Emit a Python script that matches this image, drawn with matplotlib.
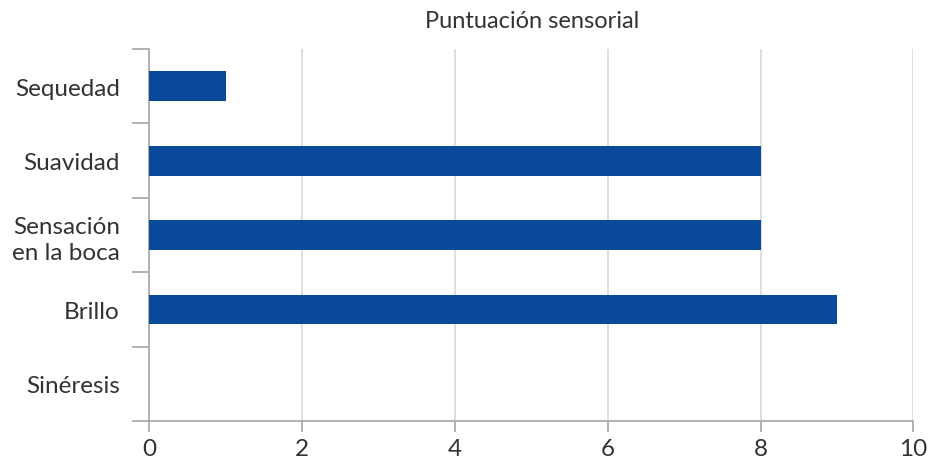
import matplotlib
matplotlib.use("Agg")
import matplotlib.pyplot as plt
from matplotlib.ticker import FixedLocator

categories = ["Sequedad", "Suavidad", "Sensación\nen la boca", "Brillo", "Sinéresis"]
values = [1, 8, 8, 9, 0]
xticks = [0, 2, 4, 6, 8, 10]
title = "Puntuación sensorial"

plt.rcParams['font.family'] = ['Lato', 'DejaVu Sans']

fig = plt.figure(figsize=(9.32, 4.64), dpi=100)
ax = fig.add_axes([0.160, 0.0905, 0.820, 0.8015])

n = len(categories)
ypos = list(range(n))
ax.barh(ypos, values, height=0.4, color='#0b4a9b', zorder=3)
ax.set_ylim(n - 0.5, -0.5)
ax.set_xlim(0, 10)

ax.set_yticks(ypos)
ax.set_yticklabels(categories, fontsize=17.5, color='#333333', linespacing=1.3)
ax.yaxis.set_minor_locator(FixedLocator([i - 0.5 for i in range(n + 1)]))
ax.tick_params(axis='y', which='major', length=0, pad=21)
ax.tick_params(axis='y', which='minor', length=12, width=1.2, color='#a6a6a6')

ax.set_xticks(xticks)
ax.set_xticklabels([str(x) for x in xticks], fontsize=17.5, color='#333333')
ax.tick_params(axis='x', which='major', length=8, width=1.2, color='#a6a6a6', pad=4)

ax.grid(axis='x', color='#d8d8d8', linewidth=1.2, zorder=0)
for s in ['top', 'right']:
    ax.spines[s].set_visible(False)
for s in ['left', 'bottom']:
    ax.spines[s].set_color('#a6a6a6')
    ax.spines[s].set_linewidth(1.2)

fig.text(0.571, 0.953, title, ha='center', va='center', fontsize=17, color='#333333')

fig.savefig("out.png", dpi=100)
